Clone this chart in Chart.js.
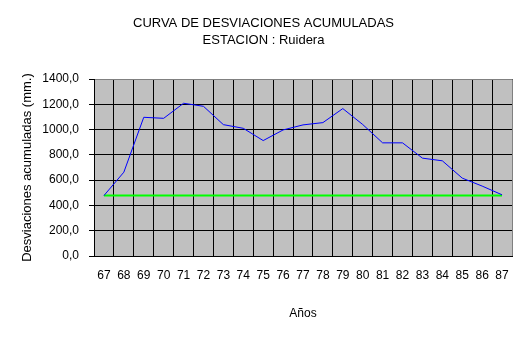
<!DOCTYPE html>
<html>
<head>
<meta charset="utf-8">
<script src="https://cdn.jsdelivr.net/npm/chart.js@4"></script>
<style>
html, body { margin: 0; padding: 0; background: #fff; }
#holder { width: 527px; height: 343px; }
</style>
</head>
<body>
<div id="holder"><canvas id="curva-chart"></canvas></div>
<script>
const years = ['67','68','69','70','71','72','73','74','75','76','77','78','79','80','81','82','83','84','85','86','87'];
const desviaciones = [478, 663, 1097, 1089, 1208, 1184, 1039, 1010, 913, 997, 1037, 1055, 1166, 1040, 895, 895, 774, 753, 616, 553, 484];
const referencia = [478, 478, 478, 478, 478, 478, 478, 478, 478, 478, 478, 478, 478, 478, 478, 478, 478, 478, 478, 478, 478];
const titleLines = ['CURVA DE DESVIACIONES ACUMULADAS', 'ESTACION : Ruidera'];

const fontFam = '"Liberation Sans", Arial, sans-serif';
Chart.defaults.font.family = fontFam;
Chart.defaults.color = '#000';

// gray plot area and gray top/right border like the excel chart
const plotArea = {
    id: 'plotArea',
    beforeDraw(chart) {
        const { ctx, chartArea: { left, top, width, height } } = chart;
        ctx.save();
        ctx.fillStyle = '#c0c0c0';
        ctx.fillRect(left, top, width, height);
        ctx.restore();
    },
    beforeDatasetsDraw(chart) {
        const { ctx, chartArea: { left, top, right, bottom } } = chart;
        ctx.save();
        ctx.strokeStyle = '#808080';
        ctx.lineWidth = 1;
        ctx.beginPath();
        ctx.moveTo(left + 1, top + 0.5);
        ctx.lineTo(right + 0.5, top + 0.5);
        ctx.lineTo(right + 0.5, bottom);
        ctx.stroke();
        ctx.restore();
    }
};

new Chart('curva-chart', {
    type: 'line',
    data: {
        labels: years,
        datasets: [{
            data: desviaciones,
            borderColor: '#0000ff',
            borderWidth: 1,
            pointRadius: 0,
            tension: 0,
            fill: false
        }, {
            data: referencia,
            borderColor: '#00ff00',
            borderWidth: 2,
            pointRadius: 0,
            tension: 0,
            fill: false
        }]
    },
    options: {
        responsive: true,
        maintainAspectRatio: false,
        animation: false,
        layout: { padding: 0 },
        plugins: {
            legend: { display: false },
            tooltip: { enabled: false },
            title: {
                display: true,
                text: titleLines,
                color: '#000',
                font: { size: 13, weight: 'normal', lineHeight: 17 / 13 },
                padding: { top: 15, bottom: 30 }
            }
        },
        scales: {
            x: {
                offset: true,
                grid: { color: '#000', offset: true, drawTicks: false },
                border: { color: '#000' },
                ticks: { font: { size: 12 }, padding: 12, maxRotation: 0, autoSkip: false },
                title: { display: true, text: 'Años', font: { size: 12 }, padding: { top: 0, bottom: 22 } },
                afterFit(scale) { scale.height = 87; }
            },
            y: {
                min: 0,
                max: 1400,
                grid: { color: '#000', tickLength: 5 },
                border: { color: '#000' },
                ticks: {
                    stepSize: 200,
                    font: { size: 12 },
                    padding: 10,
                    callback: v => v.toFixed(1).replace('.', ',')
                },
                title: { display: true, text: 'Desviaciones acumuladas (mm.)', font: { size: 13 }, padding: { top: 19.2, bottom: 0 } },
                afterFit(scale) { scale.width = 94; }
            },
            // empty strip on the right so the plot ends where the excel one does
            margen: {
                position: 'right',
                grid: { display: false },
                border: { display: false },
                ticks: { display: false },
                afterFit(scale) { scale.width = 15; }
            }
        }
    },
    plugins: [plotArea]
});
</script>
</body>
</html>
